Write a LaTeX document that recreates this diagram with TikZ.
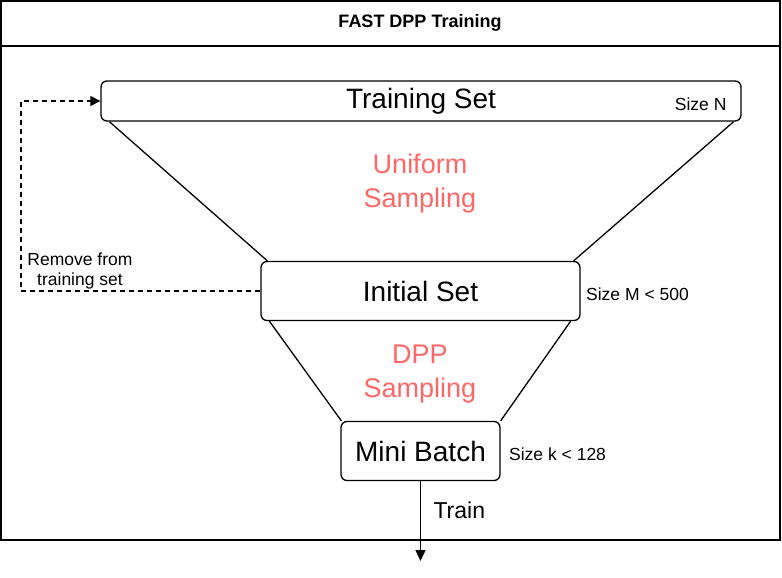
\documentclass[tikz,border=0pt]{standalone}
\usepackage{fontspec}
\setmainfont{Liberation Sans}
\usetikzlibrary{arrows.meta,positioning}
\definecolor{samplered}{HTML}{FF6666}
\tikzset{
	setbox/.style={
		rectangle,
		rounded corners=6pt,
		draw=black,
		line width=1.3pt,
		font=\fontsize{28}{32}\selectfont,
	},
	sizelabel/.style={
		anchor=west,
		font=\fontsize{17.5}{20}\selectfont,
	},
	sampling/.style={
		align=center,
		text=samplered,
		font=\fontsize{27}{34}\selectfont,
	},
	arc/.style={
		line width=1.3pt,
	},
	back/.style={
		line width=1.3pt,
		dash pattern=on 5pt off 4pt,
		-{Triangle[length=10pt,width=10pt]},
	}
}
\begin{document}
\begin{tikzpicture}[x=1pt,y=-1pt]
	\useasboundingbox (0,0) rectangle (782,578);
	% frame and title
	\draw[line width=1.5pt] (1,1) rectangle (780,540);
	\draw[line width=1.5pt] (1,46) -- (780,46);
	\node[font=\bfseries\fontsize{18}{21}\selectfont] (title) at (420,23) {FAST DPP Training};

	\node [
      setbox,
      minimum width=640pt,
      minimum height=40pt
    ] (ts) at (421,101) {};
    \node at (421,101) {\fontsize{28}{32}\selectfont Training Set};
	\node [
      setbox,
      minimum width=319pt,
      minimum height=59pt
    ] (is) at (420.5,291) {Initial Set};
	\node [
      setbox,
      minimum width=159pt,
      minimum height=59pt
    ] (mb) at (420.5,451) {Mini Batch};

    \node [sizelabel,anchor=east] (sn) at (730,104) {Size N};
    \node [sizelabel,right=2pt of is.east,yshift=-3pt] (sm) {Size M < 500};
    \node [sizelabel,right=5pt of mb.east,yshift=-3pt] (sk) {Size k < 128};

    \node [sampling] (us) at (420,184) {Uniform\\Sampling};
    \node [sampling] (ds) at (420,374) {DPP\\Sampling};

    \coordinate (out) at (420.5,561);
    \node [anchor=west,font=\fontsize{23}{26}\selectfont] (train) at (430,510) {Train};

    \node [
      align=center,
      font=\fontsize{17.5}{20}\selectfont
    ] (rm) at (80,271) {Remove from\\training set};
    \coordinate (c1) at (21,291);
    \coordinate (c2) at (21,101);

    \draw[arc] ([xshift=9pt]ts.south west) -- ([xshift=7pt]is.north west);
    \draw[arc] ([xshift=-8pt]ts.south east) -- ([xshift=-7pt]is.north east);
    \draw[arc] ([xshift=9pt]is.south west) -- ([xshift=1pt]mb.north west);
    \draw[arc] ([xshift=-10pt]is.south east) -- ([xshift=0pt]mb.north east);
    \draw[line width=1.4pt,-{Triangle[length=11pt,width=10pt]}] (mb.south) -- (out);
    \draw[back] (is.west) -- (c1) -- (c2) -- (ts.west);

\end{tikzpicture}
\end{document}
